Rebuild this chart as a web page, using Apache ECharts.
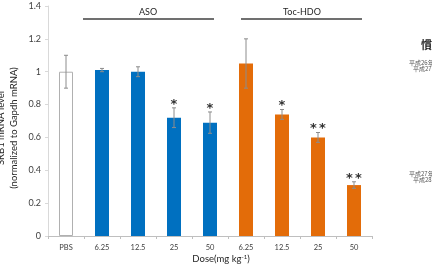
<!DOCTYPE html>
<html>
<head>
<meta charset="utf-8">
<script src="https://cdn.jsdelivr.net/npm/echarts@6/dist/echarts.min.js"></script>
<style>
  html, body { margin: 0; padding: 0; background: #fff; }
  #chart { width: 432px; height: 266px; }
</style>
</head>
<body>
<div id="chart"></div>
<script>
var categories = ['PBS', '6.25', '12.5', '25', '50', '6.25', '12.5', '25', '50'];
var values = [1.00, 1.01, 1.00, 0.72, 0.69, 1.05, 0.74, 0.60, 0.31];
var errors = [0.10, 0.01, 0.03, 0.06, 0.065, 0.15, 0.03, 0.03, 0.02];
var marks = ['', '', '', '*', '*', '', '*', '**', '**'];
var groups = ['PBS', 'ASO', 'ASO', 'ASO', 'ASO', 'Toc-HDO', 'Toc-HDO', 'Toc-HDO', 'Toc-HDO'];
var yTicks = [0, 0.2, 0.4, 0.6, 0.8, 1, 1.2, 1.4];

var groupColors = { 'PBS': '#ffffff', 'ASO': '#0070C0', 'Toc-HDO': '#E36C09' };
var font = 'Lato, "Open Sans", sans-serif';

var chart = echarts.init(document.getElementById('chart'));

var barData = [];
for (var i = 0; i < values.length; i++) {
    var g = groups[i];
    barData.push({
        value: values[i],
        itemStyle: {
            color: groupColors[g],
            borderColor: g == 'PBS' ? '#b0b0b0' : groupColors[g],
            borderWidth: g == 'PBS' ? 1 : 0
        }
    });
}

var errData = [];
for (var i = 0; i < values.length; i++) {
    errData.push([i, values[i], errors[i]]);
}

var option = {
    animation: false,
    grid: { left: 48, right: 60, top: 6, bottom: 30 },
    xAxis: {
        type: 'category',
        data: categories,
        axisLine: { lineStyle: { color: '#bfbfbf' } },
        axisTick: { show: true, length: 3, lineStyle: { color: '#bfbfbf' } },
        axisLabel: { color: '#404040', fontSize: 7.5, fontFamily: font, margin: 8 }
    },
    yAxis: {
        type: 'value',
        min: 0,
        max: yTicks[yTicks.length - 1],
        interval: 0.2,
        axisLine: { show: true, lineStyle: { color: '#d9d9d9' } },
        axisTick: { show: true, length: 3, lineStyle: { color: '#d9d9d9' } },
        splitLine: { show: false },
        axisLabel: { color: '#404040', fontSize: 9, fontFamily: font, margin: 7 }
    },
    series: [
        {
            type: 'bar',
            data: barData,
            barWidth: 14
        },
        {
            type: 'custom',
            data: errData,
            z: 5,
            renderItem: function (params, api) {
                var x = api.value(0);
                var v = api.value(1);
                var e = api.value(2);
                var top = api.coord([x, v + e]);
                var bot = api.coord([x, v - e]);
                var cap = 2;
                var style = { stroke: '#8c8c8c', lineWidth: 1 };
                var children = [
                    { type: 'line', shape: { x1: top[0], y1: top[1], x2: bot[0], y2: bot[1] }, style: style },
                    { type: 'line', shape: { x1: top[0] - cap, y1: top[1], x2: top[0] + cap, y2: top[1] }, style: style },
                    { type: 'line', shape: { x1: bot[0] - cap, y1: bot[1], x2: bot[0] + cap, y2: bot[1] }, style: style }
                ];
                var m = marks[params.dataIndex];
                if (m) {
                    // one star glyph per mark, spaced apart
                    var n = m.length;
                    for (var k = 0; k < n; k++) {
                        children.push({
                            type: 'text',
                            style: {
                                x: top[0] + (k - (n - 1) / 2) * 9, y: top[1] + 3,
                                text: '*',
                                fill: '#333333',
                                font: 'bold 13px "DejaVu Sans", sans-serif',
                                textAlign: 'center',
                                textVerticalAlign: 'bottom'
                            }
                        });
                    }
                }
                return { type: 'group', children: children };
            }
        }
    ],
    graphic: [
        // group labels
        { type: 'line', shape: { x1: 83, y1: 19, x2: 214, y2: 19 }, style: { stroke: '#404040', lineWidth: 1.5 } },
        { type: 'text', x: 148, y: 12, style: { text: 'ASO', font: '9px ' + font, fill: '#262626', textAlign: 'center', textVerticalAlign: 'middle' } },
        { type: 'line', shape: { x1: 241, y1: 19, x2: 362, y2: 19 }, style: { stroke: '#404040', lineWidth: 1.5 } },
        { type: 'text', x: 302, y: 12, style: { text: 'Toc-HDO', font: '9px ' + font, fill: '#262626', textAlign: 'center', textVerticalAlign: 'middle' } },
        // y axis name (first line cropped at the left edge)
        { type: 'text', x: 1, y: 128, rotation: Math.PI / 2, style: { text: 'SRB1 mRNA level', font: '9.5px ' + font, fill: '#262626', textAlign: 'center', textVerticalAlign: 'middle' } },
        { type: 'text', x: 14, y: 128, rotation: Math.PI / 2, style: { text: '(normalized to Gapdh mRNA)', font: '9.5px ' + font, fill: '#262626', textAlign: 'center', textVerticalAlign: 'middle' } },
        // x axis name
        { type: 'text', x: 221, y: 259, style: { text: '{a|Dose(mg kg}{s|-1}{a|)}', rich: { a: { font: '9.5px ' + font, fill: '#262626' }, s: { font: '6px ' + font, fill: '#262626', verticalAlign: 'top', padding: [0, 0, 4, 0] } }, textAlign: 'center', textVerticalAlign: 'middle' } },
        // cropped side text
        { type: 'text', x: 421, y: 45, style: { text: '慣', font: 'bold 11px "Noto Sans CJK JP"', fill: '#222', textVerticalAlign: 'middle' } },
        { type: 'text', x: 409, y: 63, style: { text: '平成26年', font: '6px "Noto Sans CJK JP"', fill: '#555', textVerticalAlign: 'middle' } },
        { type: 'text', x: 413, y: 69, style: { text: '平成27年', font: '6px "Noto Sans CJK JP"', fill: '#555', textVerticalAlign: 'middle' } },
        { type: 'text', x: 409, y: 174, style: { text: '平成27年', font: '6px "Noto Sans CJK JP"', fill: '#555', textVerticalAlign: 'middle' } },
        { type: 'text', x: 413, y: 180, style: { text: '平成28年', font: '6px "Noto Sans CJK JP"', fill: '#555', textVerticalAlign: 'middle' } }
    ]
};

chart.setOption(option);
</script>
</body>
</html>
